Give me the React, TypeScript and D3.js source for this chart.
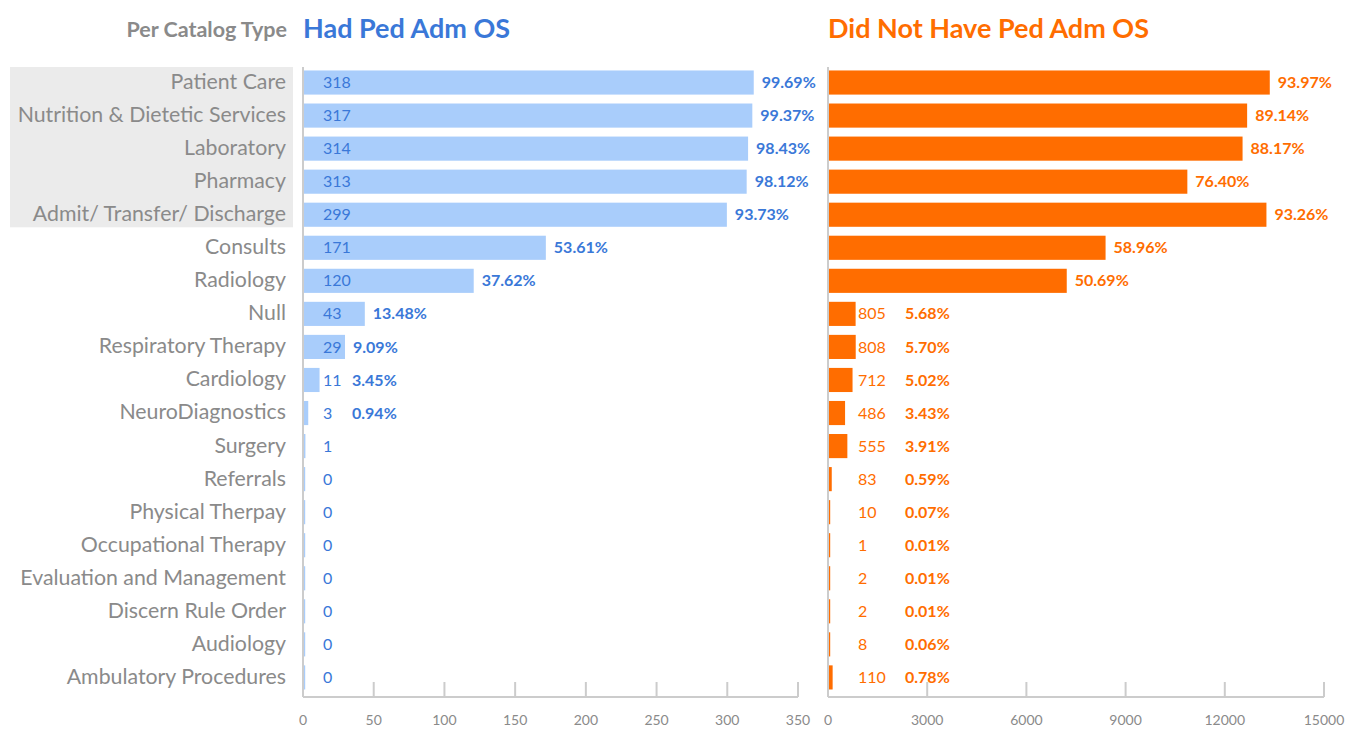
import React from "react";
import * as d3 from "d3";

const categories = [
  "Patient Care",
  "Nutrition & Dietetic Services",
  "Laboratory",
  "Pharmacy",
  "Admit/ Transfer/ Discharge",
  "Consults",
  "Radiology",
  "Null",
  "Respiratory Therapy",
  "Cardiology",
  "NeuroDiagnostics",
  "Surgery",
  "Referrals",
  "Physical Therpay",
  "Occupational Therapy",
  "Evaluation and Management",
  "Discern Rule Order",
  "Audiology",
  "Ambulatory Procedures",
];

const hadValues = [318, 317, 314, 313, 299, 171, 120, 43, 29, 11, 3, 1, 0, 0, 0, 0, 0, 0, 0];
const hadPct: (string | null)[] = [
  "99.69%", "99.37%", "98.43%", "98.12%", "93.73%", "53.61%", "37.62%", "13.48%", "9.09%", "3.45%", "0.94%",
  null, null, null, null, null, null, null, null,
];
const notValues = [13330, 12645, 12507, 10837, 13229, 8364, 7190, 805, 808, 712, 486, 555, 83, 10, 1, 2, 2, 8, 110];
const notPct = [
  "93.97%", "89.14%", "88.17%", "76.40%", "93.26%", "58.96%", "50.69%", "5.68%", "5.70%", "5.02%", "3.43%",
  "3.91%", "0.59%", "0.07%", "0.01%", "0.01%", "0.01%", "0.06%", "0.78%",
];
const hadTicks = [0, 50, 100, 150, 200, 250, 300, 350];
const notTicks = [0, 3000, 6000, 9000, 12000, 15000];
const highlighted = 5;

const FONT = "Lato, 'Open Sans', sans-serif";
const GREY = "#8a8a8a";
const AXIS = "#cccccc";
const BLUE = "#3a78d8";
const LIGHTBLUE = "#a9cdfb";
const ORANGE = "#ff6d00";

export default function App() {
  const W = 1348, H = 729;
  const y = d3
    .scaleBand<string>()
    .domain(categories)
    .range([66, 66 + 19 * 33.05])
    .paddingInner(0.27)
    .paddingOuter(0.135);
  const xL = d3.scaleLinear().domain([0, 350]).range([303, 798]);
  const xR = d3.scaleLinear().domain([0, 15000]).range([828, 1324]);
  const axisY = 697;
  const bw = y.bandwidth();

  const panel = (
    x: d3.ScaleLinear<number, number>,
    values: number[],
    pcts: (string | null)[],
    ticks: number[],
    barColor: string,
    textColor: string,
    valueX: number,
    pctMin: number
  ) => (
    <g>
      <line x1={x(0)} x2={x(0)} y1={67} y2={axisY} stroke={AXIS} strokeWidth={2} />
      <line x1={x(0)} x2={x(ticks[ticks.length - 1])} y1={axisY} y2={axisY} stroke={AXIS} strokeWidth={2} />
      {ticks.map((t) => (
        <g key={t}>
          <line x1={x(t)} x2={x(t)} y1={axisY - 15} y2={axisY} stroke={AXIS} strokeWidth={2} />
          <text x={x(t)} y={725} textAnchor="middle" fontSize={14} fill={GREY} fontFamily={FONT}>
            {t}
          </text>
        </g>
      ))}
      {values.map((v, i) => {
        const y0 = y(categories[i])!;
        const w = Math.max(x(v) - x(0), 1.2);
        const cy = y0 + bw / 2;
        const p = pcts[i];
        return (
          <g key={i}>
            <rect x={x(0) + 1} y={y0} width={w} height={bw} fill={barColor} />
            <text x={valueX} y={cy} dy="0.35em" fontSize={16} fill={textColor} fontFamily={FONT}>
              {v}
            </text>
            {p && (
              <text
                x={Math.max(x(v) + 9, pctMin)}
                y={cy}
                dy="0.35em"
                fontSize={16}
                fontWeight="bold"
                fill={textColor}
                fontFamily={FONT}
              >
                {p}
              </text>
            )}
          </g>
        );
      })}
    </g>
  );

  const hlTop = y(categories[0])! - 3.5;
  const hlBottom = y(categories[highlighted - 1])! + bw + 0.5;

  return (
    <svg width={W} height={H} style={{ position: "absolute", left: 0, top: 0 }} fontFamily={FONT}>
      <rect x={0} y={0} width={W} height={H} fill="#ffffff" />
      <rect x={10} y={hlTop} width={283} height={hlBottom - hlTop} fill="#ebebeb" />
      <text x={287} y={37} textAnchor="end" fontSize={21.5} fontWeight="bold" fill={GREY}>
        Per Catalog Type
      </text>
      <text x={303} y={38} fontSize={27} fontWeight="bold" fill={BLUE}>
        Had Ped Adm OS
      </text>
      <text x={828} y={38} fontSize={27} fontWeight="bold" fill={ORANGE}>
        Did Not Have Ped Adm OS
      </text>
      {categories.map((c) => (
        <text
          key={c}
          x={286}
          y={y(c)! + bw / 2 - 1}
          dy="0.35em"
          textAnchor="end"
          fontSize={21.3}
          fill={GREY}
        >
          {c}
        </text>
      ))}
      {panel(xL, hadValues, hadPct, hadTicks, LIGHTBLUE, BLUE, 323, 352)}
      {panel(xR, notValues, notPct, notTicks, ORANGE, ORANGE, 858, 905)}
    </svg>
  );
}
